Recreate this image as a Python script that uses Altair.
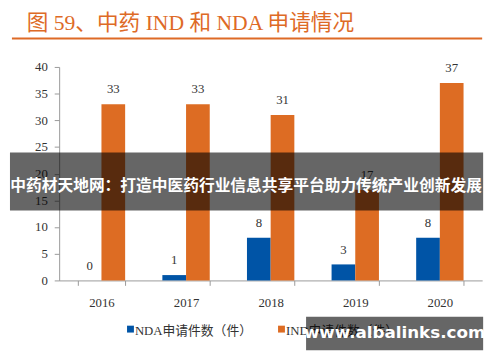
import altair as alt
import pandas as pd

years = ["2016", "2017", "2018", "2019", "2020"]
series = ["NDA申请件数（件）", "IND申请件数（件）"]
nda_values = [0, 1, 8, 3, 8]
ind_values = [33, 33, 31, 17, 37]
y_ticks = [0, 5, 10, 15, 20, 25, 30, 35, 40]
title_text = ["图 59、中药 IND 和 NDA 申请情况"]
banner_text = ["中药材天地网：打造中医药行业信息共享平台助力传统产业创新发展"]
watermark_text = ["www.albalinks.com"]

BLUE = "#0054A6"
ORANGE = "#DD6C23"
TITLE_ORANGE = "#DE6A26"
SERIF = "Liberation Serif, Noto Sans CJK SC"
SANS = "Noto Sans CJK SC"
colors = [BLUE, ORANGE]

rows = []
for i, yr in enumerate(years):
    rows.append({"year": yr, "series": series[0], "value": nda_values[i]})
    rows.append({"year": yr, "series": series[1], "value": ind_values[i]})
df = pd.DataFrame(rows)

x_enc = alt.X(
    "year:N",
    sort=years,
    scale=alt.Scale(paddingInner=0.44, paddingOuter=0.22),
    axis=alt.Axis(
        title=None, labelAngle=0, tickBand="extent", labelFont=SERIF,
        labelFontSize=13, labelColor="#333333", labelPadding=12,
        domainColor="#999999", tickColor="#999999", tickSize=5,
    ),
)
y_axis = alt.Axis(
    title=None, values=y_ticks, tickCount=9, grid=False, labelFont=SERIF,
    labelFontSize=13, labelColor="#333333", labelPadding=7,
    labelOverlap=False,
    domainColor="#999999", tickColor="#999999", tickSize=5,
)
y_enc = alt.Y("value:Q", scale=alt.Scale(domain=[0, 40], nice=False), axis=y_axis)
off = alt.XOffset("series:N", sort=series, scale=alt.Scale(paddingInner=0, paddingOuter=0))

base = alt.Chart(df)

bars = base.mark_bar().encode(
    x=x_enc,
    y=y_enc,
    xOffset=off,
    color=alt.Color(
        "series:N", sort=series,
        scale=alt.Scale(domain=series, range=colors),
        legend=None,
    ),
)

labels = base.mark_text(
    font=SERIF, fontSize=13, color="#333333", baseline="middle", dy=-15
).encode(
    x=x_enc,
    y=y_enc,
    xOffset=off,
    text="value:Q",
)

# legend (drawn as marks so the watermark can sit over it, as in the reference)
legend_layers = []
legend_x = [72.5, 226]
for i, s in enumerate(series):
    ldf = pd.DataFrame({"t": [s]})
    legend_layers.append(
        alt.Chart(ldf).mark_square(size=49, color=colors[i], opacity=1).encode(
            x=alt.value(legend_x[i]), y=alt.value(266.5)
        )
    )
    legend_layers.append(
        alt.Chart(ldf).mark_text(
            font=SERIF, fontSize=13, color="#333333", align="left", baseline="middle"
        ).encode(x=alt.value(legend_x[i] + 4.5), y=alt.value(268), text="t:N")
    )

title_df = pd.DataFrame({"t": title_text})
title = alt.Chart(title_df).mark_text(
    font=SERIF, fontSize=22, color=TITLE_ORANGE, align="left", baseline="middle"
).encode(x=alt.value(-33), y=alt.value(-45), text="t:N")

underline = alt.Chart(title_df).mark_rule(color=TITLE_ORANGE, strokeWidth=2).encode(
    x=alt.value(-48), x2=alt.value(430), y=alt.value(-29)
)

banner_df = pd.DataFrame({"t": banner_text})
banner_rect = alt.Chart(banner_df).mark_rect(color="black", opacity=0.6).encode(
    x=alt.value(-50), x2=alt.value(431), y=alt.value(87), y2=alt.value(146)
)
banner_txt = alt.Chart(banner_df).mark_text(
    font=SANS, fontSize=16, fontWeight="bold", color="white", align="center", baseline="middle"
).encode(x=alt.value(190), y=alt.value(121), text="t:N")

wm_df = pd.DataFrame({"t": watermark_text})
wm_rect = alt.Chart(wm_df).mark_rect(color="black", opacity=0.6).encode(
    x=alt.value(251), x2=alt.value(431), y=alt.value(254), y2=alt.value(288)
)
wm_txt = alt.Chart(wm_df).mark_text(
    font="DejaVu Sans", fontSize=17, fontWeight="bold", color="white", align="center", baseline="middle"
).encode(x=alt.value(341), y=alt.value(271), text="t:N")

chart = alt.layer(
    bars, labels, *legend_layers, title, underline,
    banner_rect, banner_txt, wm_rect, wm_txt
).properties(
    width=430,
    height=217,
    autosize=alt.AutoSizeParams(type="none"),
    padding={"left": 52, "top": 57, "right": 10, "bottom": 80},
    background="white",
).configure_view(stroke=None)

chart.save("out.html", embed_options={"renderer": "svg", "actions": False})
